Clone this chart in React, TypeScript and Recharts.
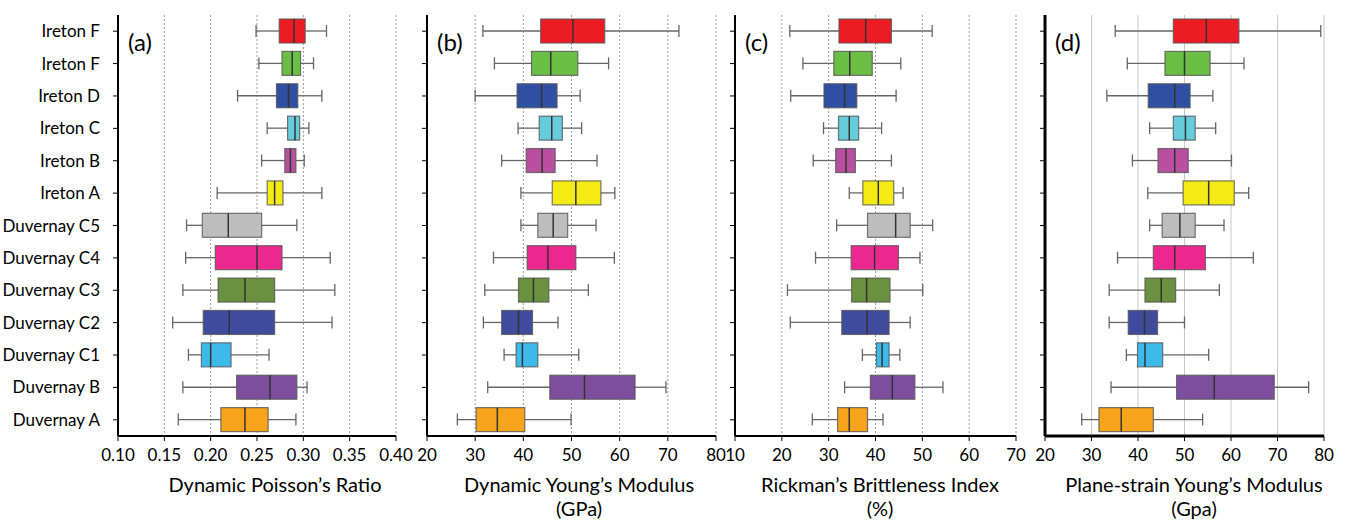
import React from 'react';
import { ComposedChart, Bar, XAxis, YAxis, CartesianGrid } from 'recharts';

// formations, top to bottom
const categories = [
  'Ireton F', 'Ireton F', 'Ireton D', 'Ireton C', 'Ireton B', 'Ireton A',
  'Duvernay C5', 'Duvernay C4', 'Duvernay C3', 'Duvernay C2', 'Duvernay C1',
  'Duvernay B', 'Duvernay A',
];

const colors = [
  '#ED1C24', '#6BBE45', '#2F4FA2', '#66CCDC', '#B84FA0', '#F4EA15',
  '#BDBDBD', '#EC288E', '#6A9140', '#3F4B9D', '#3CBBEA', '#7E4E9E', '#F7A31C',
];

// [min, q1, median, q3, max]
const poissonStats = [
  [0.249, 0.274, 0.29, 0.302, 0.325],
  [0.252, 0.277, 0.288, 0.297, 0.311],
  [0.229, 0.271, 0.284, 0.294, 0.32],
  [0.261, 0.283, 0.291, 0.296, 0.306],
  [0.255, 0.28, 0.286, 0.292, 0.301],
  [0.207, 0.261, 0.269, 0.278, 0.32],
  [0.174, 0.191, 0.219, 0.255, 0.293],
  [0.173, 0.205, 0.25, 0.277, 0.329],
  [0.17, 0.208, 0.237, 0.269, 0.334],
  [0.159, 0.192, 0.22, 0.269, 0.331],
  [0.176, 0.19, 0.2, 0.222, 0.263],
  [0.17, 0.228, 0.264, 0.293, 0.304],
  [0.165, 0.211, 0.237, 0.262, 0.292],
];

const youngStats = [
  [31.6, 43.6, 50.3, 56.9, 72.3],
  [34.0, 41.7, 45.7, 51.3, 57.7],
  [30.0, 38.7, 43.8, 47.0, 51.8],
  [38.9, 43.3, 45.9, 48.1, 52.1],
  [35.5, 40.6, 43.9, 46.6, 55.3],
  [39.5, 46.0, 50.9, 56.1, 59.0],
  [39.5, 43.0, 46.2, 49.2, 55.1],
  [33.8, 40.8, 45.1, 50.9, 58.9],
  [32.0, 39.0, 42.1, 45.3, 53.5],
  [31.7, 35.5, 39.0, 41.9, 47.2],
  [36.0, 38.5, 39.8, 43.0, 51.5],
  [32.6, 45.5, 52.7, 63.2, 69.6],
  [26.3, 30.2, 34.6, 40.3, 49.9],
];

const brittlenessStats = [
  [21.7, 32.2, 37.9, 43.4, 52.1],
  [24.5, 31.1, 34.5, 39.3, 45.4],
  [21.9, 29.0, 33.4, 36.0, 44.4],
  [28.9, 32.1, 34.4, 36.4, 41.3],
  [26.7, 31.5, 33.7, 35.7, 43.4],
  [34.4, 37.3, 40.6, 43.9, 45.9],
  [31.7, 38.3, 44.3, 47.4, 52.2],
  [27.2, 34.8, 39.8, 44.9, 49.5],
  [21.2, 34.9, 38.1, 43.1, 50.1],
  [21.8, 32.8, 38.2, 42.9, 47.4],
  [37.2, 40.2, 41.4, 42.9, 45.2],
  [33.4, 38.9, 43.6, 48.4, 54.4],
  [26.5, 31.9, 34.4, 38.3, 41.6],
];

const planeStrainStats = [
  [35.1, 47.6, 54.7, 61.7, 79.3],
  [37.7, 45.8, 50.0, 55.5, 62.8],
  [33.3, 42.2, 47.9, 51.2, 56.1],
  [42.5, 47.6, 50.2, 52.3, 56.7],
  [38.8, 44.3, 47.9, 50.8, 60.1],
  [42.1, 49.7, 55.2, 60.7, 63.8],
  [42.5, 45.2, 49.0, 52.3, 58.5],
  [35.6, 43.3, 47.9, 54.5, 64.8],
  [33.8, 41.5, 45.0, 48.1, 57.5],
  [33.8, 37.9, 41.4, 44.2, 50.0],
  [37.5, 39.9, 41.5, 45.3, 55.2],
  [34.2, 48.3, 56.4, 69.3, 76.7],
  [27.9, 31.6, 36.4, 43.3, 53.9],
];

const poissonTicks = [0.1, 0.15, 0.2, 0.25, 0.3, 0.35, 0.4];
const modulusTicks = [20, 30, 40, 50, 60, 70, 80];
const brittlenessTicks = [10, 20, 30, 40, 50, 60, 70];

const font = 'Lato, "Open Sans", sans-serif';

function toRows(stats: number[][]) {
  return stats.map((s, i) => ({
    id: 'c' + i,
    range: [s[0], s[4]],
    q1: s[1],
    med: s[2],
    q3: s[3],
    color: colors[i],
  }));
}

const BoxShape = (props: any) => {
  const { x, y, width, height, payload } = props;
  const [lo, hi] = payload.range;
  const sx = (v: number) => x + ((v - lo) / (hi - lo)) * width;
  const cy = y + height / 2;
  const cap = height / 4;
  const x1 = sx(payload.q1);
  const x3 = sx(payload.q3);
  const xm = sx(payload.med);
  const xl = x;
  const xr = x + width;
  return (
    <g>
      <line x1={xl} y1={cy} x2={x1} y2={cy} stroke="#666" strokeWidth={1.3} />
      <line x1={x3} y1={cy} x2={xr} y2={cy} stroke="#666" strokeWidth={1.3} />
      <line x1={xl} y1={cy - cap} x2={xl} y2={cy + cap} stroke="#666" strokeWidth={1.3} />
      <line x1={xr} y1={cy - cap} x2={xr} y2={cy + cap} stroke="#666" strokeWidth={1.3} />
      <rect x={x1} y={y} width={x3 - x1} height={height} fill={payload.color} stroke="#555" strokeOpacity={0.8} strokeWidth={1.2} />
      <line x1={xm} y1={y} x2={xm} y2={y + height} stroke="#333" strokeWidth={1.5} />
    </g>
  );
};

interface PanelProps {
  left: number;
  width: number;
  yWidth: number;
  marginRight: number;
  stats: number[][];
  ticks: number[];
  fmt: (v: number) => string;
  labels: boolean;
  tag: string;
  frame: number;
  grid: string;
  dash: string;
  title: string[];
  titleCenter: number;
}

function Panel(p: PanelProps) {
  const rows = toRows(p.stats);
  const domain = [p.ticks[0], p.ticks[p.ticks.length - 1]];
  const axisLine = { stroke: '#000', strokeWidth: p.frame };
  return (
    <>
      <div style={{ position: 'absolute', left: p.left, top: 0 }}>
        <ComposedChart
          width={p.width}
          height={470}
          data={rows}
          layout="vertical"
          margin={{ top: 15, right: p.marginRight, bottom: 4, left: 0 }}
        >
          <CartesianGrid horizontal={false} stroke={p.grid} strokeDasharray={p.dash} />
          <XAxis
            type="number"
            domain={domain}
            ticks={p.ticks}
            interval={0}
            allowDataOverflow
            tickFormatter={p.fmt}
            axisLine={axisLine}
            tickLine={{ stroke: '#000' }}
            tickSize={5}
            tickMargin={8}
            height={30}
            tick={{ fill: '#000', fontSize: 17, fontFamily: font }}
          />
          <XAxis
            xAxisId="top"
            orientation="top"
            type="number"
            domain={domain}
            ticks={p.ticks}
            interval={0}
            allowDataOverflow
            tickFormatter={() => ''}
            axisLine={axisLine}
            tickLine={{ stroke: '#000' }}
            tickSize={4}
            height={0}
          />
          <YAxis
            type="category"
            dataKey="id"
            width={p.yWidth}
            interval={0}
            tickFormatter={(_v: any, i: number) => (p.labels ? categories[i] : '')}
            axisLine={axisLine}
            tickLine={{ stroke: '#000' }}
            tickSize={5}
            tickMargin={13}
            tick={{ fill: '#000', fontSize: 17, fontFamily: font }}
          />
          <YAxis
            yAxisId="right"
            orientation="right"
            type="category"
            dataKey="id"
            width={0}
            tick={false}
            tickLine={false}
            axisLine={axisLine}
          />
          <Bar dataKey="range" barSize={24} shape={BoxShape} isAnimationActive={false} />
        </ComposedChart>
      </div>
      <div style={{ position: 'absolute', left: p.left + p.yWidth + 10, top: 27, fontFamily: font, fontSize: 24, color: '#000' }}>
        {p.tag}
      </div>
      <div
        style={{
          position: 'absolute',
          left: p.titleCenter - 170,
          width: 340,
          top: 472,
          textAlign: 'center',
          fontFamily: font,
          fontSize: 20,
          lineHeight: '24px',
          color: '#000',
        }}
      >
        {p.title.map((t, i) => (
          <div key={i}>{t}</div>
        ))}
      </div>
    </>
  );
}

export default function App() {
  return (
    <div style={{ position: 'absolute', left: 0, top: 0, width: 1347, height: 520, background: '#fff', overflow: 'hidden' }}>
      <Panel
        left={0} width={420} yWidth={118} marginRight={24}
        stats={poissonStats} ticks={poissonTicks} fmt={(v) => v.toFixed(2)}
        labels tag="(a)" frame={2} grid="#999" dash="2 2"
        title={['Dynamic Poisson\u2019s Ratio']} titleCenter={275}
      />
      <Panel
        left={410} width={316} yWidth={17} marginRight={10}
        stats={youngStats} ticks={modulusTicks} fmt={(v) => String(v)}
        labels={false} tag="(b)" frame={2} grid="#999" dash="2 2"
        title={['Dynamic Young\u2019s Modulus', '(GPa)']} titleCenter={579}
      />
      <Panel
        left={720} width={306} yWidth={15} marginRight={10}
        stats={brittlenessStats} ticks={brittlenessTicks} fmt={(v) => String(v)}
        labels={false} tag="(c)" frame={2} grid="#999" dash="2 2"
        title={['Rickman\u2019s Brittleness Index', '(%)']} titleCenter={880}
      />
      <Panel
        left={1030} width={306} yWidth={15} marginRight={12}
        stats={planeStrainStats} ticks={modulusTicks} fmt={(v) => String(v)}
        labels={false} tag="(d)" frame={3} grid="#c8c8c8" dash="0"
        title={['Plane-strain Young\u2019s Modulus', '(Gpa)']} titleCenter={1194}
      />
    </div>
  );
}
